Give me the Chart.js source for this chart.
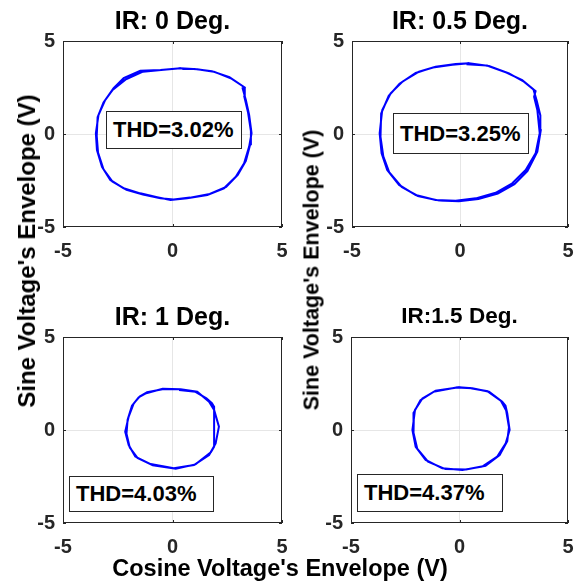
<!DOCTYPE html>
<html>
<head>
<meta charset="utf-8">
<script src="https://cdn.jsdelivr.net/npm/chart.js@4.4.1/dist/chart.umd.min.js"></script>
<style>
  body { margin: 0; background: #fff; }
  #fig { position: relative; width: 579px; height: 583px; overflow: hidden; background: #fff;
         font-family: Arial, "Liberation Sans", Helvetica, sans-serif; font-weight: bold; }
  canvas { position: absolute; }
  .lbl { position: absolute; white-space: nowrap; transform: translate(-50%, -50%); color: #000; }
  .rot { transform: translate(-50%, -50%) rotate(-90deg); }
  .thd { position: absolute; border: 1px solid #262626; background: #fff; color: #000;
         font-size: 22px; line-height: 1; display: flex; align-items: center; padding-left: 6px; box-sizing: border-box; }
</style>
</head>
<body>
<div id="fig">
  <canvas id="c0"></canvas>
  <canvas id="c1"></canvas>
  <canvas id="c2"></canvas>
  <canvas id="c3"></canvas>
</div>
<script>
// axis ticks
const tickVals = [-5, 0, 5];
const titles = ['IR: 0 Deg.', 'IR: 0.5 Deg.', 'IR: 1 Deg.', 'IR:1.5 Deg.'];
const thdLabels = ['THD=3.02%', 'THD=3.25%', 'THD=4.03%', 'THD=4.37%'];

// IR 0 deg - two laps of the envelope trace
const ir0X = [0.37, -0.55, -1.47, -2.23, -2.69, -3.07, -3.38, -3.50, -3.45, -3.22, -2.84, -2.23, -1.47, -0.70, -0.09, 0.67, 1.59, 2.35, 2.89, 3.27, 3.50, 3.61, 3.50, 3.35, 3.20, 3.28, 2.66, 1.89, 1.13, 0.37,
              -0.40, -1.35, -2.15, -2.75, -3.15, -3.42, -3.46, -3.40, -3.15, -2.75, -2.10, -1.35, -0.55, 0.05, 0.80, 1.70, 2.45, 2.98, 3.35, 3.55, 3.58, 3.45, 3.28, 3.30, 2.60, 1.80, 1.00, 0.45];
const ir0Y = [3.53, 3.44, 3.40, 3.00, 2.46, 1.83, 1.02, 0.04, -0.86, -1.76, -2.47, -2.92, -3.19, -3.40, -3.55, -3.46, -3.28, -2.92, -2.30, -1.58, -0.68, 0.04, 1.02, 1.83, 2.46, 2.52, 3.00, 3.35, 3.48, 3.53,
              3.46, 3.35, 2.92, 2.35, 1.70, 0.90, -0.10, -1.00, -1.90, -2.55, -3.00, -3.25, -3.45, -3.52, -3.42, -3.22, -2.85, -2.20, -1.45, -0.55, 0.15, 1.15, 2.00, 2.50, 3.05, 3.38, 3.50, 3.50];

// IR 0.5 deg
const ir05X = [0.42, -0.20, -1.13, -1.90, -2.67, -3.21, -3.60, -3.72, -3.63, -3.37, -2.82, -2.05, -1.13, -0.20, 0.73, 1.65, 2.42, 3.04, 3.50, 3.69, 3.58, 3.43, 3.50, 2.96, 2.27, 1.34, 0.42,
               -0.35, -1.25, -2.05, -2.80, -3.30, -3.65, -3.68, -3.55, -3.28, -2.70, -1.95, -1.00, -0.05, 0.85, 1.75, 2.52, 3.12, 3.58, 3.74, 3.72, 3.55, 3.40, 2.88, 2.15, 1.25, 0.30];
const ir05Y = [3.80, 3.76, 3.62, 3.35, 2.81, 2.19, 1.29, 0.04, -1.04, -1.94, -2.74, -3.28, -3.55, -3.59, -3.46, -3.16, -2.65, -1.94, -1.04, 0.04, 1.29, 2.00, 2.30, 2.81, 3.26, 3.66, 3.80,
               3.72, 3.58, 3.28, 2.70, 2.05, 1.10, -0.15, -1.20, -2.05, -2.85, -3.33, -3.58, -3.62, -3.50, -3.20, -2.70, -2.00, -0.95, 0.20, 1.00, 1.80, 2.40, 2.90, 3.30, 3.68, 3.75];

// IR 1 deg
const ir1X = [0.37, -0.40, -1.16, -1.50, -1.77, -2.00, -2.16, -2.00, -1.70, -1.00, 0.06, 0.98, 1.67, 1.97, 2.12, 1.90, 1.67, 1.13, 0.37,
              -0.45, -1.20, -1.55, -1.85, -2.05, -2.10, -1.95, -1.60, -0.90, 0.15, 1.05, 1.75, 1.90, 1.90, 1.80, 1.55, 1.05, 0.30];
const ir1Y = [2.19, 2.20, 2.03, 1.80, 1.43, 0.72, -0.09, -0.81, -1.43, -1.83, -2.06, -1.88, -1.34, -0.72, 0.18, 1.08, 1.52, 2.06, 2.19,
              2.22, 1.98, 1.75, 1.30, 0.55, -0.20, -0.95, -1.50, -1.90, -2.08, -1.85, -1.20, -0.90, 1.25, 1.45, 1.70, 2.05, 2.15];

// IR 1.5 deg
const ir15X = [0.59, -0.02, -1.10, -1.71, -2.05, -2.17, -2.02, -1.56, -0.79, 0.13, 1.05, 1.74, 2.13, 2.31, 2.20, 2.12, 1.97, 1.36, 0.59,
               -0.15, -1.20, -1.80, -2.10, -2.12, -1.95, -1.45, -0.65, 0.30, 1.20, 1.85, 2.20, 2.28, 2.15, 1.90, 1.30, 0.45];
const ir15Y = [2.24, 2.30, 2.11, 1.70, 1.08, 0.00, -0.90, -1.61, -2.06, -2.15, -1.97, -1.43, -0.72, 0.00, 0.90, 1.30, 1.52, 2.06, 2.24,
               2.28, 2.05, 1.60, 0.95, -0.15, -1.00, -1.70, -2.10, -2.12, -1.92, -1.35, -0.60, 0.15, 1.05, 1.58, 2.08, 2.26];

const seriesX = [ir0X, ir05X, ir1X, ir15X];
const seriesY = [ir0Y, ir05Y, ir1Y, ir15Y];

// plot boxes in page pixels
const boxes = [
  { left: 63,  top: 41,  w: 219, h: 186 },
  { left: 352, top: 41,  w: 216, h: 186 },
  { left: 63,  top: 337, w: 219, h: 186 },
  { left: 351, top: 337, w: 217, h: 186 }
];
const thdBoxes = [
  { left: 106, top: 111, w: 136, h: 38 },
  { left: 393, top: 113, w: 136, h: 41 },
  { left: 69,  top: 476, w: 145, h: 36 },
  { left: 357, top: 474, w: 146, h: 38 }
];

// canvas margins round each plot box (the y labels need 20px above the box)
const PL = 50, PT = 20, PR = 22, PB = 34;
const fig = document.getElementById('fig');

// box + inward tick marks, MATLAB style
const boxPlugin = {
  id: 'box',
  afterDraw(chart) {
    const { ctx, chartArea: a, scales } = chart;
    ctx.save();
    ctx.strokeStyle = '#262626';
    ctx.lineWidth = 1;
    ctx.strokeRect(a.left + 0.5, a.top + 0.5, a.right - a.left - 1, a.bottom - a.top - 1);
    ctx.beginPath();
    tickVals.forEach(v => {
      const px = Math.round(scales.x.getPixelForValue(v)) + 0.5;
      const py = Math.round(scales.y.getPixelForValue(v)) + 0.5;
      ctx.moveTo(px, a.bottom); ctx.lineTo(px, a.bottom - 3);
      ctx.moveTo(px, a.top); ctx.lineTo(px, a.top + 3);
      ctx.moveTo(a.left, py); ctx.lineTo(a.left + 3, py);
      ctx.moveTo(a.right, py); ctx.lineTo(a.right - 3, py);
    });
    ctx.stroke();
    ctx.restore();
  }
};

const tickFont = { family: 'Arial, "Liberation Sans", sans-serif', weight: 'bold', size: 20 };
const gridColor = c => (c.tick && c.tick.value === 0) ? '#e6e6e6' : 'rgba(0,0,0,0)';

boxes.forEach((b, i) => {
  const cv = document.getElementById('c' + i);
  cv.width = b.w + PL + PR;
  cv.height = b.h + PT + PB;
  cv.style.left = (b.left - PL) + 'px';
  cv.style.top = (b.top - PT) + 'px';

  new Chart(cv, {
    type: 'scatter',
    data: {
      datasets: [{
        data: seriesX[i].map((x, k) => ({ x: x, y: seriesY[i][k] })),
        showLine: true,
        borderColor: '#0000ff',
        borderWidth: 2,
        pointRadius: 0,
        tension: 0
      }]
    },
    options: {
      responsive: false,
      animation: false,
      layout: { padding: { left: 0, top: PT, right: PR, bottom: 2 } },
      plugins: { legend: { display: false }, tooltip: { enabled: false } },
      scales: {
        x: {
          min: -5, max: 5,
          afterBuildTicks: s => { s.ticks = tickVals.map(v => ({ value: v })); },
          afterFit: s => { s.height = PB - 2; },
          ticks: { font: tickFont, color: '#262626', padding: 12, maxRotation: 0 },
          grid: { color: gridColor, drawTicks: false },
          border: { display: false }
        },
        y: {
          min: -5, max: 5,
          afterBuildTicks: s => { s.ticks = tickVals.map(v => ({ value: v })); },
          afterFit: s => { s.width = PL; },
          ticks: { font: tickFont, color: '#262626', padding: 8 },
          grid: { color: gridColor, drawTicks: false },
          border: { display: false }
        }
      }
    },
    plugins: [boxPlugin]
  });

  // subplot title
  const t = document.createElement('div');
  t.className = 'lbl';
  t.textContent = titles[i];
  t.style.fontSize = (i === 3 ? 22.5 : 25) + 'px';
  t.style.left = (b.left + b.w / 2) + 'px';
  t.style.top = (b.top - 21) + 'px';
  fig.appendChild(t);

  // THD annotation
  const tb = thdBoxes[i];
  const d = document.createElement('div');
  d.className = 'thd';
  d.textContent = thdLabels[i];
  d.style.left = tb.left + 'px';
  d.style.top = tb.top + 'px';
  d.style.width = tb.w + 'px';
  d.style.height = tb.h + 'px';
  fig.appendChild(d);
});

// shared axis labels
function addLabel(text, x, y, size, rotate) {
  const d = document.createElement('div');
  d.className = 'lbl' + (rotate ? ' rot' : '');
  d.textContent = text;
  d.style.left = x + 'px';
  d.style.top = y + 'px';
  d.style.fontSize = size + 'px';
  fig.appendChild(d);
}
addLabel("Sine Voltage's Envelope (V)", 27, 251, 24, true);
addLabel("Sine Voltage's Envelope (V)", 312, 270, 21.5, true);
addLabel("Cosine Voltage's Envelope (V)", 280, 568, 23.5, false);
</script>
</body>
</html>
